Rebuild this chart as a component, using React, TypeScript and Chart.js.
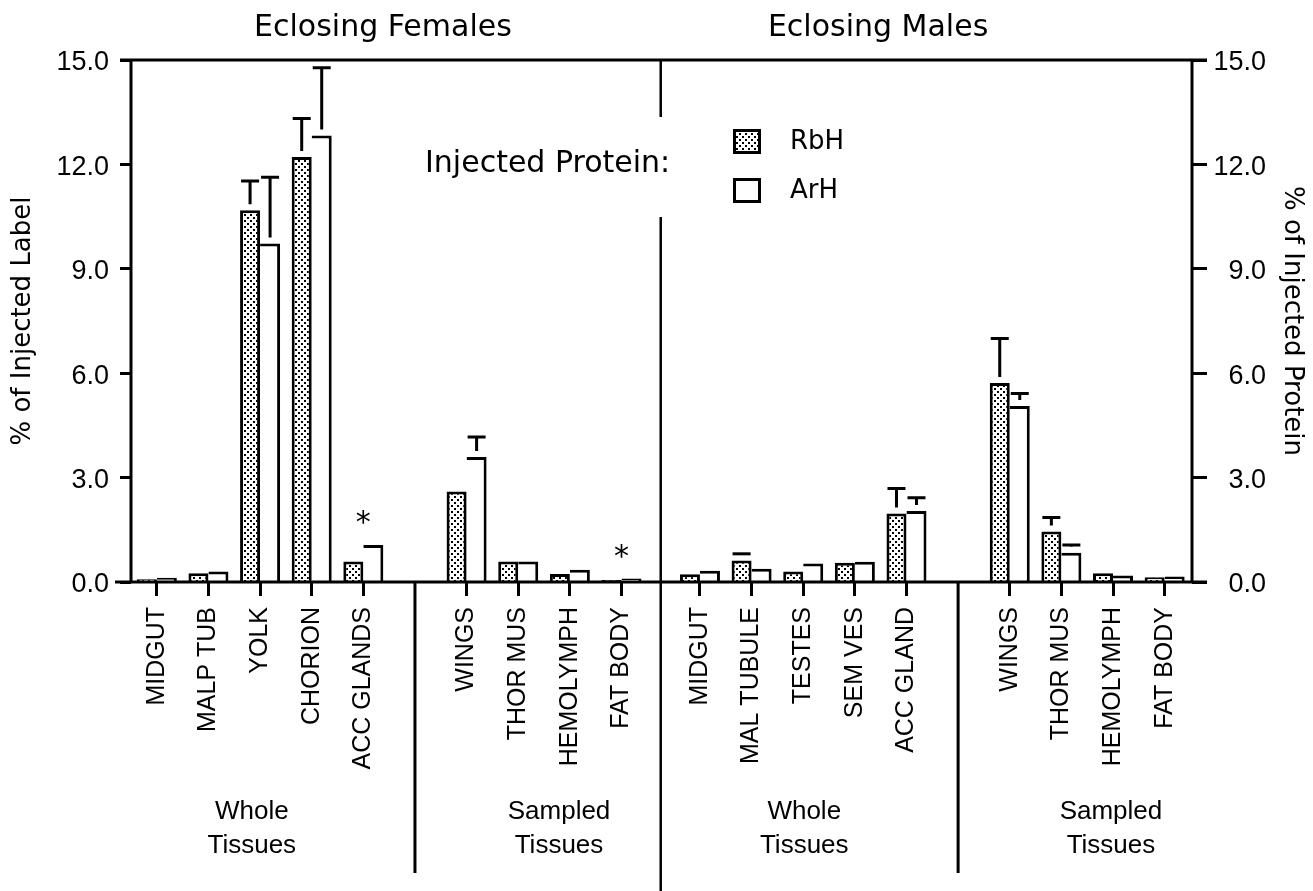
import React, { useEffect, useRef } from 'react';
import { Chart, registerables } from 'chart.js';

Chart.register(...registerables);

// ---------------- data ----------------
const femaleWhole = ['MIDGUT', 'MALP TUB', 'YOLK', 'CHORION', 'ACC GLANDS'];
const femaleSampled = ['WINGS', 'THOR MUS', 'HEMOLYMPH', 'FAT BODY'];
const maleWhole = ['MIDGUT', 'MAL TUBULE', 'TESTES', 'SEM VES', 'ACC GLAND'];
const maleSampled = ['WINGS', 'THOR MUS', 'HEMOLYMPH', 'FAT BODY'];

const femaleRbH = [0.08, 0.25, 10.68, 12.21, 0.59, 2.6, 0.59, 0.23, 0.06];
const femaleArH = [0.12, 0.3, 9.73, 12.83, 1.06, 3.59, 0.59, 0.35, 0.1];
const femaleRbHErr = [null, null, 0.84, 1.11, null, null, null, null, null];
const femaleArHErr = [null, null, 1.9, 1.95, null, 0.58, null, null, null];

const maleRbH = [0.22, 0.62, 0.3, 0.55, 1.97, 5.72, 1.45, 0.25, 0.14];
const maleArH = [0.32, 0.38, 0.53, 0.58, 2.04, 5.06, 0.84, 0.19, 0.16];
const maleRbHErr = [null, 0.19, null, null, 0.72, 1.28, 0.4, null, null];
const maleArHErr = [null, null, null, null, 0.38, 0.36, 0.22, null, null];

const starredCategories = [4, 8]; // female ACC GLANDS, female FAT BODY
const yTicks = [0, 3, 6, 9, 12, 15];
const panelTitles = ['Eclosing Females', 'Eclosing Males'];
const groupNames = [['Whole', 'Tissues'], ['Sampled', 'Tissues'], ['Whole', 'Tissues'], ['Sampled', 'Tissues']];
const seriesNames = ['RbH', 'ArH'];
const legendTitle = 'Injected Protein:';
const yTitleLeft = '% of Injected Label';
const yTitleRight = '% of Injected Protein';

// ---------------- layout ----------------
const W = 1313;
const H = 891;
const PANEL_OFFSET = 10.52;
const X_MIN = -0.5;
const X_MAX = 20.05;
const TITLE_AT = [4.38, 13.97];
const GROUP_AT = [1.84, 7.79, 12.54, 18.48];
const RIGHT_LABEL_EDGE = 1266;

const panels = [
  [femaleWhole, femaleSampled],
  [maleWhole, maleSampled],
];
const catPositions: number[] = [];
const catLabels: string[] = [];
const sepPositions: number[] = [];
panels.forEach(([whole, sampled], p) => {
  const base = p * PANEL_OFFSET;
  whole.forEach((lab, i) => {
    catPositions.push(base + i);
    catLabels.push(lab);
  });
  sepPositions.push(base + whole.length);
  sampled.forEach((lab, j) => {
    catPositions.push(base + whole.length + 1 + j);
    catLabels.push(lab);
  });
});
const rbhAll = [...femaleRbH, ...maleRbH];
const arhAll = [...femaleArH, ...maleArH];
const rbhErrAll = [...femaleRbHErr, ...maleRbHErr];
const arhErrAll = [...femaleArHErr, ...maleArHErr];
const nFemale = femaleWhole.length + femaleSampled.length;
const centralDivider = (catPositions[nFemale - 1] + catPositions[nFemale]) / 2;

function makePattern(): CanvasPattern | string {
  const c = document.createElement('canvas');
  c.width = 6;
  c.height = 6;
  const g = c.getContext('2d');
  if (!g) return '#ccc';
  g.fillStyle = '#fff';
  g.fillRect(0, 0, 6, 6);
  g.fillStyle = '#000';
  g.fillRect(1, 1, 2, 2);
  g.fillRect(4, 4, 2, 2);
  return g.createPattern(c, 'repeat') || '#ccc';
}

export default function App() {
  const ref = useRef<HTMLCanvasElement>(null);

  useEffect(() => {
    document.body.style.margin = '0';
    const canvas = ref.current;
    if (!canvas) return;
    const pattern = makePattern();

    const annot = {
      id: 'annot',
      afterDatasetsDraw(chart: any) {
        const ctx = chart.ctx as CanvasRenderingContext2D;
        const ys = chart.scales.y;
        ctx.save();
        ctx.strokeStyle = '#000';
        ctx.lineWidth = 3;
        ctx.lineCap = 'butt';
        [rbhErrAll, arhErrAll].forEach((errs, d) => {
          const meta = chart.getDatasetMeta(d);
          const vals = d === 0 ? rbhAll : arhAll;
          meta.data.forEach((bar: any, i: number) => {
            const e = errs[i];
            if (e == null) return;
            const x = bar.x;
            const yTop = bar.y;
            const yc = ys.getPixelForValue(vals[i] + e);
            ctx.beginPath();
            if (yTop - 6 > yc + 1) {
              ctx.moveTo(x, yc);
              ctx.lineTo(x, yTop - 6);
            }
            ctx.moveTo(x - 9, yc);
            ctx.lineTo(x + 9, yc);
            ctx.stroke();
          });
        });
        ctx.restore();
      },
      afterDraw(chart: any) {
        const ctx = chart.ctx as CanvasRenderingContext2D;
        const { left, right, top, bottom } = chart.chartArea;
        const xs = chart.scales.x;
        const ys = chart.scales.y;
        ctx.save();
        ctx.strokeStyle = '#000';
        ctx.fillStyle = '#000';
        ctx.lineWidth = 3;
        ctx.beginPath();
        // frame
        ctx.moveTo(left - 11, top);
        ctx.lineTo(right + 15, top);
        ctx.moveTo(left - 16, bottom);
        ctx.lineTo(right + 15, bottom);
        ctx.moveTo(left, top);
        ctx.lineTo(left, bottom);
        ctx.moveTo(right, top);
        ctx.lineTo(right, bottom);
        // group separators
        sepPositions.forEach((p) => {
          const x = xs.getPixelForValue(p);
          ctx.moveTo(x, bottom);
          ctx.lineTo(x, bottom + 291);
        });
        ctx.stroke();
        // central divider (interrupted by legend title)
        ctx.beginPath();
        ctx.lineWidth = 2.5;
        const cx = xs.getPixelForValue(centralDivider);
        ctx.moveTo(cx, top);
        ctx.lineTo(cx, top + 57);
        ctx.moveTo(cx, top + 157);
        ctx.lineTo(cx, H);
        ctx.stroke();

        // panel titles
        ctx.font = '30px "DejaVu Sans"';
        ctx.textAlign = 'center';
        ctx.textBaseline = 'alphabetic';
        panelTitles.forEach((t, i) => {
          ctx.fillText(t, xs.getPixelForValue(TITLE_AT[i]), 36);
        });

        // legend
        ctx.textAlign = 'left';
        ctx.fillText(legendTitle, 425, 172);
        const boxes = [129, 178];
        boxes.forEach((by, i) => {
          ctx.fillStyle = i === 0 ? (pattern as any) : '#fff';
          ctx.fillRect(733, by, 28, 25);
          ctx.lineWidth = 3;
          ctx.strokeStyle = '#000';
          ctx.strokeRect(734.5, by + 1.5, 25, 22);
          ctx.fillStyle = '#000';
          ctx.font = '26px "DejaVu Sans"';
          ctx.textBaseline = 'middle';
          ctx.fillText(seriesNames[i], 790, by + 13);
        });

        // stars
        ctx.font = '30px "DejaVu Sans"';
        ctx.textAlign = 'center';
        ctx.textBaseline = 'alphabetic';
        starredCategories.forEach((ci) => {
          const x = xs.getPixelForValue(catPositions[ci]);
          const yc = ys.getPixelForValue(Math.max(rbhAll[ci], arhAll[ci])) - 29;
          ctx.fillText('*', x, yc + 16);
        });

        // group labels
        ctx.font = '26px "Liberation Sans"';
        groupNames.forEach((lines, i) => {
          const x = xs.getPixelForValue(GROUP_AT[i]);
          ctx.fillText(lines[0], x, 819);
          ctx.fillText(lines[1], x, 853);
        });
        ctx.restore();
      },
    };

    const tickFont = { family: 'Liberation Sans', size: 27 };
    const chart = new Chart(canvas, {
      type: 'bar',
      data: {
        datasets: [
          {
            label: seriesNames[0],
            data: catPositions.map((x, i) => ({ x, y: rbhAll[i] })),
            backgroundColor: pattern as any,
            borderColor: '#000',
            borderWidth: { top: 3, left: 3, right: 3, bottom: 0 } as any,
            borderSkipped: false,
            categoryPercentage: 0.775,
            barPercentage: 1.0,
            inflateAmount: 0,
          },
          {
            label: seriesNames[1],
            data: catPositions.map((x, i) => ({ x, y: arhAll[i] })),
            backgroundColor: '#fff',
            borderColor: '#000',
            borderWidth: { top: 3, left: 0, right: 3, bottom: 0 } as any,
            borderSkipped: false,
            categoryPercentage: 0.775,
            barPercentage: 1.0,
            inflateAmount: 0,
          },
        ],
      },
      options: {
        responsive: false,
        animation: false,
        events: [],
        layout: { padding: { top: 60, left: 0, right: W - RIGHT_LABEL_EDGE, bottom: 0 } },
        plugins: { legend: { display: false }, tooltip: { enabled: false } },
        scales: {
          x: {
            type: 'linear',
            min: X_MIN,
            max: X_MAX,
            offset: false,
            afterBuildTicks: (s: any) => {
              s.ticks = catPositions.map((v) => ({ value: v }));
            },
            afterFit: (s: any) => {
              s.height = H - 582;
            },
            ticks: {
              autoSkip: false,
              minRotation: 90,
              maxRotation: 90,
              padding: 11,
              color: '#000',
              font: { family: 'Liberation Sans', size: 25 },
              callback: (_v: any, i: number) => catLabels[i],
            },
            grid: {
              display: true,
              drawOnChartArea: false,
              drawTicks: true,
              tickLength: 14,
              tickWidth: 3,
              tickColor: '#000',
              offset: false,
            },
            border: { display: false },
          },
          y: {
            position: 'left',
            min: 0,
            max: 15,
            afterBuildTicks: (s: any) => {
              s.ticks = yTicks.map((v) => ({ value: v }));
            },
            afterFit: (s: any) => {
              s.width = 131;
            },
            ticks: {
              padding: 11,
              labelOffset: 3,
              color: '#000',
              font: tickFont,
              callback: (v: any) => Number(v).toFixed(1),
            },
            grid: { drawOnChartArea: false, drawTicks: true, tickLength: 11, tickWidth: 3, tickColor: '#000' },
            border: { display: false },
            title: {
              display: true,
              text: yTitleLeft,
              color: '#000',
              font: { family: 'DejaVu Sans', size: 26 },
              padding: { top: 7.4, bottom: 0 },
            },
          },
          y2: {
            position: 'right',
            min: 0,
            max: 15,
            afterBuildTicks: (s: any) => {
              s.ticks = yTicks.map((v) => ({ value: v }));
            },
            afterFit: (s: any) => {
              s.width = RIGHT_LABEL_EDGE - 1192;
            },
            ticks: {
              padding: 7,
              labelOffset: 3,
              crossAlign: 'far',
              color: '#000',
              font: tickFont,
              callback: (v: any) => Number(v).toFixed(1),
            },
            grid: { drawOnChartArea: false, drawTicks: true, tickLength: 15, tickWidth: 3, tickColor: '#000' },
            border: { display: false },
            title: {
              display: true,
              text: yTitleRight,
              color: '#000',
              font: { family: 'DejaVu Sans', size: 26 },
              padding: { top: -41.6, bottom: 0 },
            },
          },
        },
      } as any,
      plugins: [annot],
    });
    return () => chart.destroy();
  }, []);

  return (
    <div style={{ width: W, height: H, overflow: 'hidden' }}>
      <canvas ref={ref} width={W} height={H} style={{ display: 'block' }} />
    </div>
  );
}
